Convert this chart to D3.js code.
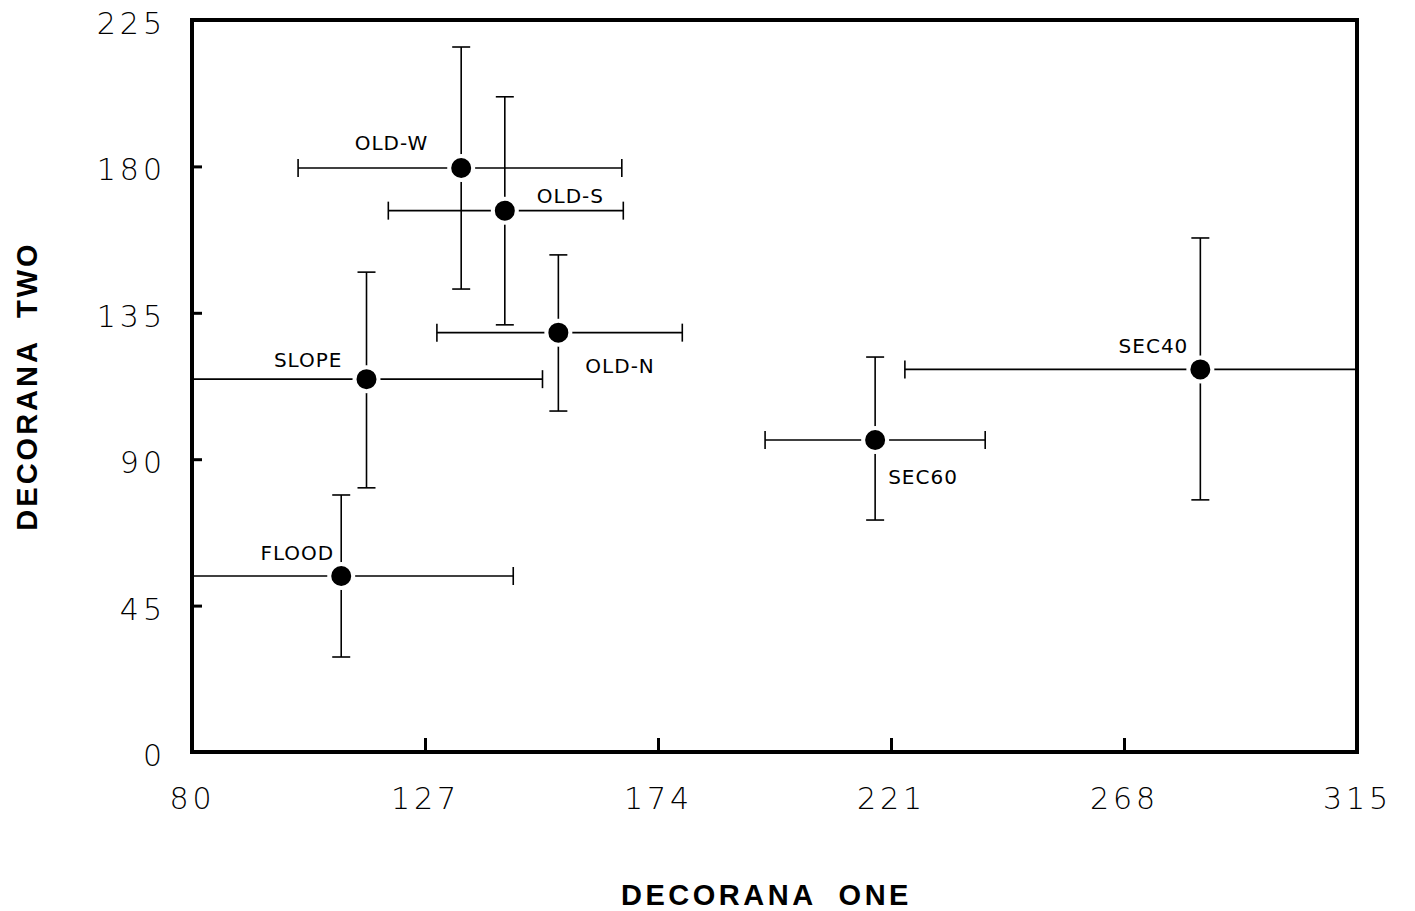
<!DOCTYPE html>
<html>
<head>
<meta charset="utf-8">
<script src="https://cdn.jsdelivr.net/npm/d3@7"></script>
<style>
  body { margin: 0; background: #fff; }
  .tick text { font-family: "DejaVu Sans", sans-serif; font-weight: 200; }
</style>
</head>
<body>
<div id="ordination"><svg width="1415" height="911"></svg></div>
<script>
// site scores on the first two DECORANA axes, with their ranges
var sites   = ["OLD-W", "OLD-S", "OLD-N", "SLOPE", "FLOOD", "SEC60", "SEC40"];
var axisOne = [134.3, 143.1, 153.9, 115.2, 110.1, 217.8, 283.4];
var oneLow  = [101.4, 119.6, 129.4, 76.0, 74.0, 195.6, 223.8];
var oneHigh = [166.7, 167.0, 178.9, 150.7, 144.8, 240.0, 322.0];
var axisTwo = [179.5, 166.4, 128.9, 114.6, 54.1, 95.9, 117.6];
var twoLow  = [142.3, 131.3, 104.8, 81.2, 29.2, 71.3, 77.5];
var twoHigh = [216.7, 201.4, 152.8, 147.5, 79.0, 121.4, 158.0];

var xTicks = [80, 127, 174, 221, 268, 315];
var yTicks = [0, 45, 90, 135, 180, 225];

// where each site label sits relative to its point
var labelPos = {
  "OLD-W": {dx: -33, dy: -18, anchor: "end"},
  "OLD-S": {dx: 32, dy: -8, anchor: "start"},
  "OLD-N": {dx: 27, dy: 40, anchor: "start"},
  "SLOPE": {dx: -24, dy: -12, anchor: "end"},
  "FLOOD": {dx: -7, dy: -16, anchor: "end"},
  "SEC60": {dx: 13, dy: 44, anchor: "start"},
  "SEC40": {dx: -12, dy: -16, anchor: "end"}
};

var data = sites.map(function(s, i) {
  return {site: s, x: axisOne[i], x0: oneLow[i], x1: oneHigh[i],
          y: axisTwo[i], y0: twoLow[i], y1: twoHigh[i]};
});

var svg = d3.select("#ordination").select("svg");
var margin = {top: 20, right: 58, bottom: 159, left: 192};
var width = +svg.attr("width") - margin.left - margin.right;
var height = +svg.attr("height") - margin.top - margin.bottom;
var g = svg.append("g").attr("transform", "translate(" + margin.left + "," + margin.top + ")");

var x = d3.scaleLinear().domain([80, 315]).range([0, width]);
var y = d3.scaleLinear().domain([0, 225]).range([height, 0]);

g.append("clipPath").attr("id", "plotClip")
  .append("rect").attr("width", width).attr("height", height);

var cap = 9;
var bars = g.append("g").attr("clip-path", "url(#plotClip)")
  .attr("stroke", "#000").attr("stroke-width", 1.6).attr("fill", "none")
  .selectAll("g").data(data).enter().append("g");

bars.append("line")
  .attr("x1", function(d) { return x(d.x0); }).attr("x2", function(d) { return x(d.x1); })
  .attr("y1", function(d) { return y(d.y); }).attr("y2", function(d) { return y(d.y); });
bars.append("line")
  .attr("x1", function(d) { return x(d.x); }).attr("x2", function(d) { return x(d.x); })
  .attr("y1", function(d) { return y(d.y0); }).attr("y2", function(d) { return y(d.y1); });
["x0", "x1"].forEach(function(k) {
  bars.append("line")
    .attr("x1", function(d) { return x(d[k]); }).attr("x2", function(d) { return x(d[k]); })
    .attr("y1", function(d) { return y(d.y) - cap; }).attr("y2", function(d) { return y(d.y) + cap; });
});
["y0", "y1"].forEach(function(k) {
  bars.append("line")
    .attr("x1", function(d) { return x(d.x) - cap; }).attr("x2", function(d) { return x(d.x) + cap; })
    .attr("y1", function(d) { return y(d[k]); }).attr("y2", function(d) { return y(d[k]); });
});

g.append("g").selectAll("circle").data(data).enter().append("circle")
  .attr("cx", function(d) { return x(d.x); })
  .attr("cy", function(d) { return y(d.y); })
  .attr("r", 12)
  .attr("fill", "#000")
  .attr("stroke", "#fff")
  .attr("stroke-width", 4);

g.append("g").selectAll("text").data(data).enter().append("text")
  .attr("x", function(d) { return x(d.x) + labelPos[d.site].dx; })
  .attr("y", function(d) { return y(d.y) + labelPos[d.site].dy; })
  .attr("text-anchor", function(d) { return labelPos[d.site].anchor; })
  .attr("font-family", "DejaVu Sans, sans-serif")
  .attr("font-size", 20)
  .attr("letter-spacing", 1)
  .attr("fill", "#000")
  .text(function(d) { return d.site; });

// axes: ticks point into the frame
var xAxis = g.append("g")
  .attr("transform", "translate(0," + height + ")")
  .call(d3.axisBottom(x).tickValues(xTicks).tickSize(-14).tickPadding(36).tickFormat(d3.format("d")));
var yAxis = g.append("g")
  .call(d3.axisLeft(y).tickValues(yTicks).tickSize(-10).tickPadding(26).tickFormat(d3.format("d")));

[xAxis, yAxis].forEach(function(a) {
  a.select(".domain").remove();
  a.selectAll(".tick line").attr("stroke-width", 3);
  a.selectAll(".tick text").attr("font-size", 30).attr("letter-spacing", 4).attr("fill", "#000");
});
yAxis.selectAll(".tick text").attr("dy", "0.45em");

g.append("rect")
  .attr("width", width).attr("height", height)
  .attr("fill", "none").attr("stroke", "#000").attr("stroke-width", 4);

svg.append("text")
  .attr("x", margin.left + width / 2 - 8)
  .attr("y", 905)
  .attr("text-anchor", "middle")
  .attr("font-family", "Liberation Sans, Arial, sans-serif")
  .attr("font-weight", "bold")
  .attr("font-size", 29)
  .attr("letter-spacing", 3.5)
  .attr("xml:space", "preserve")
  .text("DECORANA  ONE");

svg.append("text")
  .attr("transform", "translate(37,386) rotate(-90)")
  .attr("text-anchor", "middle")
  .attr("font-family", "Liberation Sans, Arial, sans-serif")
  .attr("font-weight", "bold")
  .attr("font-size", 29)
  .attr("letter-spacing", 3)
  .attr("xml:space", "preserve")
  .text("DECORANA  TWO");
</script>
</body>
</html>
